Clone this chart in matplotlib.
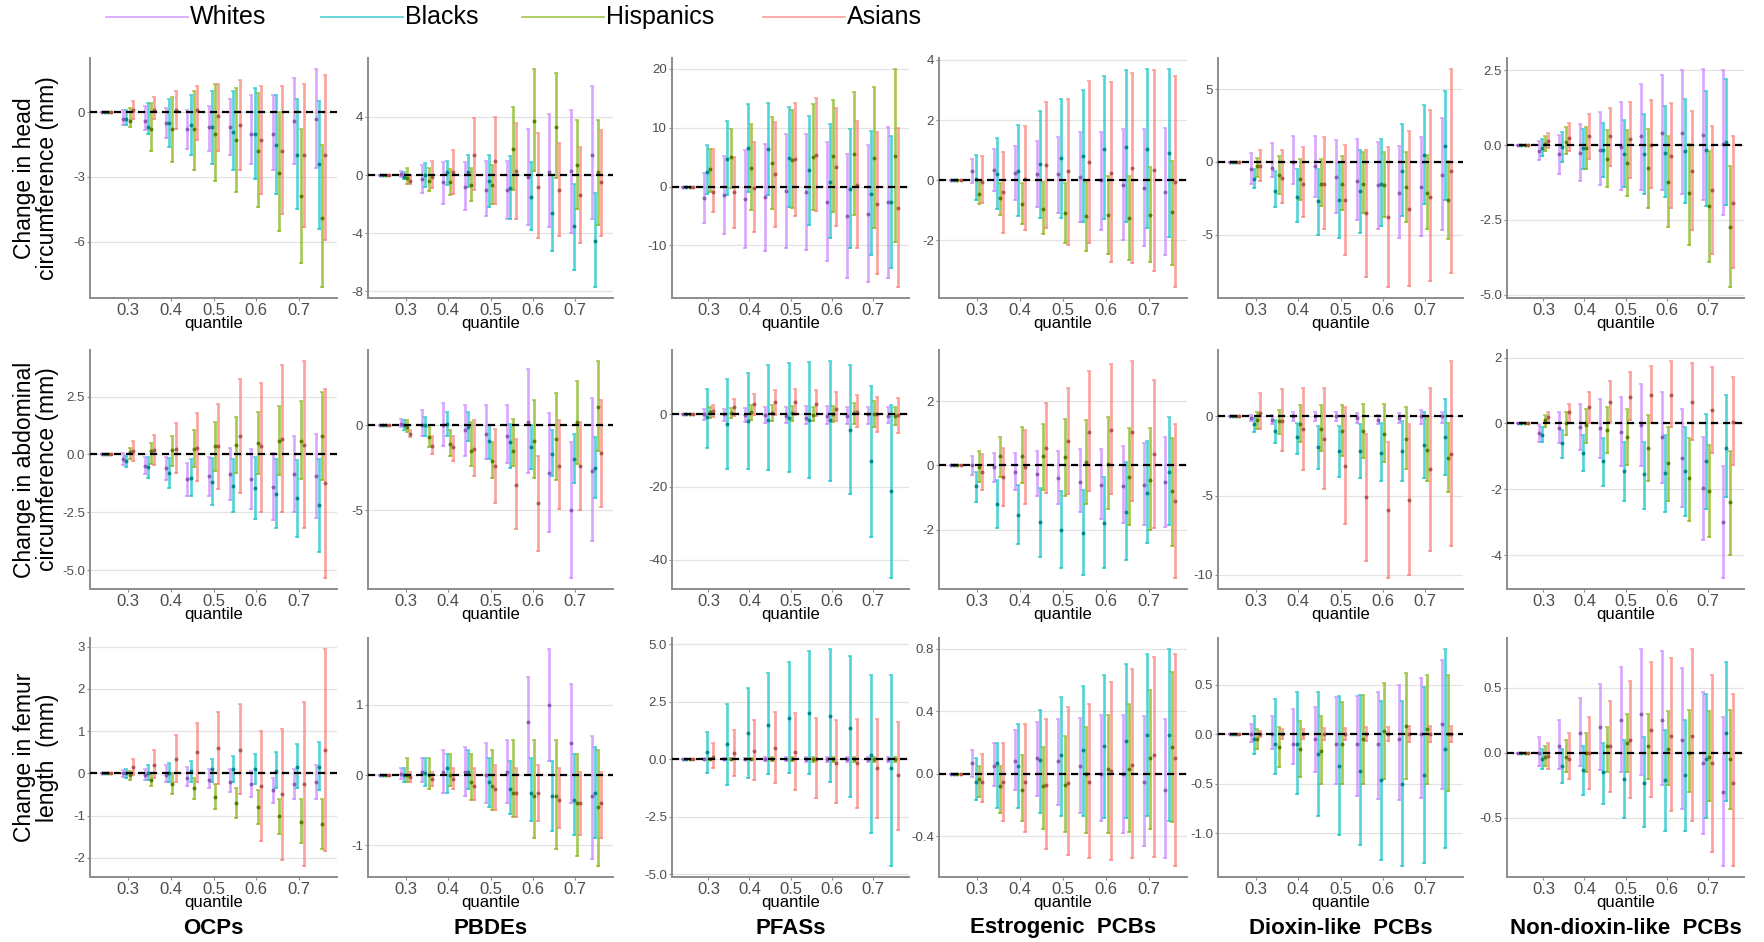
import numpy as np
import matplotlib
matplotlib.use("Agg")
import matplotlib.pyplot as plt
import matplotlib.colors as mcolors
from matplotlib.lines import Line2D

quantiles = [0.25, 0.3, 0.35, 0.4, 0.45, 0.5, 0.55, 0.6, 0.65, 0.7, 0.75]
groups = ["Whites", "Blacks", "Hispanics", "Asians"]
colors = ["#C77CFF", "#00BFC4", "#7CAE00", "#F8766D"]
chemicals = ["OCPs", "PBDEs", "PFASs", "Estrogenic  PCBs", "Dioxin-like  PCBs", "Non-dioxin-like  PCBs"]
outcomes = ["Change in head\ncircumference (mm)", "Change in abdominal\ncircumference (mm)",
            "Change in femur\nlength  (mm)"]

# rows of each array: Whites, Blacks, Hispanics, Asians; columns: quantiles
# ---------------- head circumference ----------------
head_ocp_est = [[0, -0.3, -0.4, -0.5, -0.8, -0.7, -0.7, -1.0, -1.0, -0.4, -0.3],
                [0, -0.3, -0.7, -0.5, -0.6, -0.7, -0.9, -1.0, -1.5, -2.0, -2.4],
                [0, -0.4, -0.8, -0.8, -0.8, -1.0, -1.3, -1.8, -2.8, -3.9, -4.9],
                [0, 0.1, 0.1, 0.1, 0.1, -0.2, -0.6, -1.3, -1.8, -2.0, -2.0]]
head_ocp_lo = [[0, -0.6, -0.85, -1.2, -1.7, -1.8, -2.0, -2.4, -2.7, -2.4, -2.6],
               [0, -0.6, -1.0, -1.6, -2.0, -2.4, -2.7, -3.1, -3.8, -4.5, -5.4],
               [0, -0.7, -1.8, -2.3, -2.7, -3.2, -3.7, -4.4, -5.5, -7.0, -8.1],
               [0, -0.3, -0.3, -0.8, -1.3, -1.8, -2.7, -3.8, -4.7, -5.3, -5.9]]
head_ocp_hi = [[0, 0.1, 0.3, 0.2, 0.1, 0.3, 0.6, 0.8, 0.8, 1.6, 2.0],
               [0, 0.1, 0.4, 0.6, 0.8, 1.0, 1.0, 1.1, 0.8, 0.6, 0.5],
               [0, 0.2, 0.4, 0.7, 1.0, 1.3, 1.1, 0.9, 0.0, -0.8, -1.5],
               [0, 0.5, 0.7, 1.0, 1.2, 1.3, 1.5, 1.2, 1.2, 1.3, 1.7]]

head_pbde_est = [[0, 0.1, -0.3, -0.5, -0.8, -1.0, -1.0, -0.1, 0.2, 0.3, 1.4],
                 [0, -0.1, 0.0, 0.2, 0.2, -0.4, -0.9, -1.5, -2.6, -3.5, -4.5],
                 [0, -0.2, -0.4, -0.5, -0.7, -0.7, 1.8, 3.7, 3.3, 0.7, 0.2],
                 [0, -0.4, -0.1, 0.2, 1.4, 1.0, 0.3, -0.8, -1.0, -1.4, -0.5]]
head_pbde_lo = [[0, -0.1, -1.2, -2.0, -2.4, -2.8, -3.0, -3.4, -3.6, -4.0, -3.0],
                [0, -0.3, -0.8, -0.7, -0.8, -2.2, -3.0, -3.8, -5.2, -6.5, -7.7],
                [0, -0.6, -1.1, -1.4, -1.8, -2.0, -1.0, 0.3, -0.2, -2.3, -3.4],
                [0, -0.6, -0.9, -1.3, -1.0, -2.0, -3.0, -4.3, -4.2, -4.7, -4.2]]
head_pbde_hi = [[0, 0.3, 0.7, 0.9, 0.9, 1.0, 1.0, 3.2, 4.2, 4.5, 6.1],
                [0, 0.2, 0.8, 1.0, 1.4, 1.4, 1.3, 0.9, 0.0, -0.6, -1.2],
                [0, 0.5, 0.5, 0.4, 0.5, 0.7, 4.7, 7.3, 7.0, 3.8, 3.8],
                [0, 0.0, 1.0, 1.7, 3.9, 4.0, 3.6, 2.9, 2.2, 1.9, 3.1]]

head_pfas_est = [[0, -2.0, -1.5, -2.2, -1.8, -0.8, -0.9, -2.6, -5.0, -4.7, -2.7],
                 [0, 2.5, 4.6, 6.5, 6.3, 4.8, 2.8, 0.8, -0.4, -1.2, -2.7],
                 [0, 2.9, 5.0, 3.2, 4.0, 4.5, 5.0, 5.2, 5.6, 4.9, 5.2],
                 [0, -0.9, -1.0, -0.2, 2.1, 4.6, 5.3, 3.3, 0.2, -3.0, -3.7]]
head_pfas_lo = [[0, -6.2, -8.0, -10.5, -11.0, -10.4, -10.8, -12.7, -15.5, -16.2, -15.6],
                [0, -1.2, -1.5, -1.0, -1.5, -3.5, -6.5, -8.7, -10.5, -11.6, -13.9],
                [0, -1.0, -0.2, -4.0, -3.8, -3.7, -4.0, -4.3, -4.8, -7.0, -9.4],
                [0, -4.4, -7.0, -7.7, -6.8, -5.0, -4.2, -6.7, -10.5, -14.9, -17.1]]
head_pfas_hi = [[0, 2.3, 5.2, 6.2, 7.3, 9.0, 9.0, 7.5, 5.5, 7.0, 10.1],
                [0, 7.0, 11.1, 14.0, 14.2, 13.6, 12.0, 10.6, 9.7, 9.5, 8.6],
                [0, 6.4, 9.8, 10.6, 11.8, 13.0, 14.0, 14.7, 16.0, 16.9, 20.0],
                [0, 6.3, 5.0, 7.6, 11.0, 14.2, 15.0, 13.4, 11.2, 9.2, 10.0]]

head_estr_est = [[0, 0.3, 0.35, 0.25, 0.2, 0.2, 0.1, 0.0, -0.15, -0.25, -0.4],
                 [0, 0.05, 0.2, 0.3, 0.55, 0.75, 0.8, 1.05, 1.1, 1.05, 0.9],
                 [0, -0.45, -0.6, -0.8, -0.95, -1.1, -1.2, -1.15, -1.25, -1.15, -1.05],
                 [0, -0.05, -0.4, 0.05, 0.5, 0.3, 0.6, 0.25, 0.4, 0.35, -0.05]]
head_estr_lo = [[0, -0.1, -0.35, -0.65, -0.9, -1.1, -1.4, -1.65, -2.0, -2.2, -2.5],
                [0, -0.65, -0.95, -1.2, -1.25, -1.25, -1.4, -1.3, -1.4, -1.6, -1.9],
                [0, -0.8, -1.15, -1.45, -1.8, -2.1, -2.35, -2.45, -2.65, -2.7, -2.8],
                [0, -0.75, -1.75, -1.65, -1.6, -2.15, -2.1, -2.7, -2.75, -3.0, -3.55]]
head_estr_hi = [[0, 0.7, 1.05, 1.15, 1.3, 1.45, 1.6, 1.6, 1.7, 1.7, 1.75],
                [0, 0.85, 1.4, 1.85, 2.3, 2.7, 3.0, 3.45, 3.65, 3.7, 3.7],
                [0, -0.05, -0.1, -0.1, -0.05, -0.1, -0.05, 0.15, 0.15, 0.45, 0.65],
                [0, 0.8, 0.95, 1.8, 2.6, 2.7, 3.3, 3.25, 3.55, 3.65, 3.45]]

head_diox_est = [[0, -0.5, -0.4, 0.0, -0.3, -1.0, -1.3, -1.6, -2.1, -1.7, -0.9],
                 [0, -1.2, -2.0, -2.4, -2.7, -2.6, -2.0, -1.5, -0.6, 0.5, 1.1],
                 [0, -0.3, -0.9, -1.2, -1.5, -1.5, -1.5, -1.6, -1.7, -2.1, -2.6],
                 [0, -0.3, -1.1, -1.5, -1.5, -2.6, -3.5, -3.8, -3.2, -2.4, -0.6]]
head_diox_lo = [[0, -1.5, -1.0, -1.5, -2.4, -3.5, -4.0, -4.6, -5.2, -5.1, -4.7],
                [0, -1.8, -3.1, -4.1, -5.0, -5.2, -4.9, -4.4, -3.7, -2.9, -2.6],
                [0, -1.0, -2.2, -2.6, -3.0, -3.3, -3.5, -3.8, -4.1, -4.6, -5.3],
                [0, -1.3, -2.8, -3.8, -4.6, -6.4, -7.9, -8.6, -8.5, -8.2, -7.6]]
head_diox_hi = [[0, 0.6, 1.3, 1.8, 1.8, 1.5, 1.6, 1.4, 1.1, 1.7, 3.0],
                [0, -0.5, -0.6, -0.5, -0.5, -0.1, 0.8, 1.6, 2.6, 3.9, 4.9],
                [0, 0.3, 0.4, 0.2, 0.2, 0.4, 0.7, 0.7, 0.7, 0.5, 0.1],
                [0, 0.8, 0.8, 1.0, 1.7, 1.2, 0.8, 1.0, 2.1, 3.6, 6.4]]

head_ndl_est = [[0, -0.2, -0.3, -0.25, -0.15, -0.05, 0.3, 0.4, 0.4, 0.35, 0.05],
                [0, -0.1, -0.05, -0.1, -0.15, -0.3, -0.3, -0.25, -0.2, -0.15, 0.1],
                [0, 0.05, 0.1, -0.1, -0.45, -0.6, -0.75, -1.25, -1.6, -2.05, -2.75],
                [0, 0.15, 0.25, 0.3, 0.3, 0.2, 0.0, -0.35, -0.85, -1.5, -1.95]]
head_ndl_lo = [[0, -0.5, -0.95, -1.2, -1.35, -1.5, -1.5, -1.5, -1.65, -1.85, -2.35],
               [0, -0.35, -0.55, -0.8, -1.05, -1.4, -1.65, -1.75, -1.95, -2.05, -2.0],
               [0, -0.2, -0.3, -0.8, -1.4, -1.7, -2.1, -2.75, -3.35, -3.9, -4.75],
               [0, -0.1, -0.2, -0.45, -0.7, -1.1, -1.45, -2.1, -2.85, -3.65, -4.1]]
head_ndl_hi = [[0, 0.15, 0.35, 0.7, 1.1, 1.45, 2.05, 2.35, 2.5, 2.55, 2.5],
               [0, 0.2, 0.45, 0.55, 0.75, 0.85, 1.05, 1.3, 1.55, 1.8, 2.2],
               [0, 0.3, 0.6, 0.6, 0.5, 0.5, 0.55, 0.3, 0.05, -0.2, -0.7],
               [0, 0.4, 0.75, 1.05, 1.25, 1.45, 1.5, 1.4, 1.15, 0.65, 0.3]]

# ---------------- abdominal circumference ----------------
abd_ocp_est = [[0, -0.2, -0.5, -0.6, -1.05, -0.95, -0.85, -1.05, -1.4, -0.85, -0.95],
               [0, -0.3, -0.55, -0.8, -1.0, -1.2, -1.35, -1.45, -1.7, -1.9, -2.2],
               [0, 0.1, 0.15, 0.2, 0.25, 0.35, 0.4, 0.5, 0.6, 0.6, 0.8],
               [0, 0.15, 0.2, 0.25, 0.3, 0.35, 0.8, 0.35, 0.65, 0.4, -1.25]]
abd_ocp_lo = [[0, -0.45, -0.85, -1.1, -1.8, -1.8, -1.95, -2.35, -2.85, -2.5, -2.75],
              [0, -0.55, -1.0, -1.45, -1.8, -2.2, -2.5, -2.8, -3.2, -3.55, -4.2],
              [0, -0.2, -0.4, -0.5, -0.55, -0.7, -0.8, -0.85, -0.9, -1.05, -1.1],
              [0, -0.3, -0.45, -0.8, -1.15, -1.5, -1.65, -2.5, -2.5, -3.2, -5.35]]
abd_ocp_hi = [[0, 0.05, -0.1, -0.1, -0.35, -0.1, 0.3, 0.25, 0.05, 0.8, 0.9],
              [0, -0.05, -0.1, -0.15, -0.2, -0.15, -0.2, -0.1, -0.2, -0.25, -0.2],
              [0, 0.3, 0.5, 0.8, 1.05, 1.4, 1.6, 1.85, 2.1, 2.3, 2.7],
              [0, 0.6, 0.85, 1.35, 1.8, 2.2, 3.25, 3.1, 3.85, 4.05, 2.85]]

abd_pbde_est = [[0, 0.1, 0.0, 0.0, -0.3, -0.5, -0.6, 0.2, -2.8, -5.0, -2.7],
                [0, 0.0, 0.0, 0.1, -0.1, -0.9, -1.0, -1.3, -1.7, -2.0, -2.5],
                [0, -0.1, -0.7, -1.1, -1.5, -2.1, -1.5, -0.9, -0.8, 0.2, 1.1],
                [0, -0.5, -1.2, -1.3, -1.4, -2.4, -3.5, -4.6, -2.4, -2.4, -1.6]]
abd_pbde_lo = [[0, -0.1, -0.6, -1.2, -1.8, -2.0, -2.2, -2.8, -6.3, -9.0, -6.8],
               [0, -0.3, -0.6, -0.6, -0.9, -2.0, -2.5, -2.6, -3.0, -3.4, -4.3],
               [0, -0.4, -1.3, -1.8, -2.4, -3.1, -2.4, -3.1, -3.2, -2.3, -1.5],
               [0, -0.7, -1.7, -2.1, -3.0, -4.6, -6.1, -7.4, -4.9, -5.0, -4.8]]
abd_pbde_hi = [[0, 0.4, 0.9, 1.3, 1.2, 1.2, 1.2, 3.3, 0.7, -1.0, 1.6],
               [0, 0.3, 0.5, 0.8, 0.8, 0.0, 0.1, 0.0, -0.3, -0.5, -0.7],
               [0, 0.3, -0.1, -0.3, 0.2, -1.0, 0.4, 1.5, 1.9, 2.6, 3.8],
               [0, -0.3, -0.6, -0.6, 0.3, -0.2, -0.8, -1.8, 0.3, 0.2, 1.5]]

abd_pfas_est = [[0, 0.0, 0.0, -0.2, -0.3, -0.5, -1.1, -0.5, -0.4, 0.0, -0.5],
                [0, -0.8, -2.8, -1.8, -1.7, -1.2, -1.5, -1.7, -4.4, -13.0, -21.2],
                [0, 0.5, 0.3, 0.5, 0.3, 0.3, -0.3, 0.0, 0.3, 0.0, -0.5],
                [0, 0.8, 1.9, 2.7, 3.2, 3.3, 2.7, 1.5, 0.5, 0.0, -0.3]]
abd_pfas_lo = [[0, -1.5, -2.0, -2.2, -2.5, -2.4, -2.6, -2.6, -2.8, -2.8, -2.5],
               [0, -9.2, -15.2, -15.0, -15.3, -16.0, -17.4, -18.3, -22.0, -33.8, -45.0],
               [0, -1.0, -1.2, -1.5, -1.8, -1.8, -2.0, -2.3, -2.7, -3.5, -3.0],
               [0, -0.8, -0.5, -0.3, -0.3, -0.2, -0.6, -2.0, -3.5, -4.8, -5.3]]
abd_pfas_hi = [[0, 1.5, 1.5, 1.7, 1.9, 1.9, 2.1, 2.1, 1.9, 2.0, 2.0],
               [0, 7.0, 9.5, 11.4, 13.5, 14.0, 14.3, 14.6, 13.5, 7.7, 2.5],
               [0, 2.0, 1.8, 2.5, 2.4, 2.3, 1.9, 2.2, 3.0, 3.5, 2.0],
               [0, 2.5, 4.2, 5.6, 6.7, 7.0, 6.7, 6.0, 5.3, 4.6, 4.3]]

abd_estr_est = [[0, 0.0, -0.05, -0.2, -0.25, -0.4, -0.5, -0.6, -0.65, -0.6, -0.5],
                [0, -0.65, -1.2, -1.55, -1.75, -2.0, -2.1, -1.8, -1.45, -0.85, -0.2],
                [0, -0.05, 0.3, 0.3, 0.3, 0.25, 0.1, 0.05, -0.35, -0.45, -0.8],
                [0, -0.2, -0.35, -0.05, 0.55, 0.75, 1.05, 1.1, 1.05, 0.35, -1.1]]
abd_estr_lo = [[0, -0.3, -0.5, -0.75, -0.95, -1.2, -1.45, -1.65, -1.8, -1.85, -1.9],
               [0, -1.15, -1.95, -2.45, -2.85, -3.2, -3.4, -3.2, -2.95, -2.4, -1.85],
               [0, -0.5, -0.35, -0.55, -0.75, -0.95, -1.2, -1.35, -1.85, -2.0, -2.5],
               [0, -0.75, -1.25, -1.2, -0.85, -0.9, -0.8, -0.9, -1.1, -1.95, -3.5]]
abd_estr_hi = [[0, 0.3, 0.4, 0.4, 0.45, 0.45, 0.5, 0.5, 0.6, 0.7, 0.9],
               [0, -0.2, -0.45, -0.6, -0.7, -0.8, -0.75, -0.35, 0.1, 0.75, 1.5],
               [0, 0.45, 0.9, 1.2, 1.3, 1.45, 1.4, 1.5, 1.15, 1.15, 0.85],
               [0, 0.35, 0.55, 1.1, 1.95, 2.4, 2.95, 3.15, 3.25, 2.65, 1.3]]

abd_diox_est = [[0, -0.1, -0.2, 0.0, 0.0, 0.0, -0.1, -0.2, -0.1, 0.0, 0.0],
                [0, -0.5, -0.9, -1.3, -1.9, -2.2, -2.2, -2.3, -2.2, -1.8, -1.3],
                [0, -0.2, -0.3, -0.5, -0.8, -0.9, -0.9, -1.1, -1.4, -2.1, -2.6],
                [0, 0.2, -0.3, -0.8, -1.4, -3.1, -5.1, -5.9, -5.3, -3.3, -2.4]]
abd_diox_lo = [[0, -0.3, -0.5, -0.3, -0.3, -0.3, -0.4, -0.5, -0.4, -0.5, -0.4],
               [0, -1.0, -1.7, -2.4, -3.3, -3.8, -3.9, -4.1, -4.1, -3.9, -3.7],
               [0, -0.8, -1.1, -1.6, -2.2, -2.5, -2.6, -2.9, -3.3, -4.1, -4.8],
               [0, -0.8, -2.2, -3.4, -4.6, -6.8, -9.1, -10.2, -10.0, -8.5, -8.2]]
abd_diox_hi = [[0, 0.1, 0.1, 0.3, 0.3, 0.3, 0.2, 0.1, 0.2, 0.4, 0.3],
               [0, -0.1, -0.2, -0.4, -0.6, -0.6, -0.5, -0.4, -0.3, 0.3, 1.1],
               [0, 0.3, 0.4, 0.7, 0.7, 0.7, 0.8, 0.8, 0.6, -0.1, -0.4],
               [0, 1.5, 1.7, 1.8, 1.8, 0.6, -1.1, -1.6, -0.5, 1.8, 3.5]]

abd_ndl_est = [[0, -0.3, -0.15, -0.1, -0.15, -0.25, -0.05, -0.4, -1.05, -1.95, -3.0],
               [0, -0.35, -0.6, -0.9, -1.15, -1.45, -1.55, -1.5, -1.45, -1.15, -0.75],
               [0, 0.1, 0.0, -0.05, -0.2, -0.4, -0.75, -1.2, -1.65, -2.05, -2.4],
               [0, 0.2, 0.35, 0.5, 0.65, 0.8, 0.85, 0.85, 0.65, 0.4, 0.05]]
abd_ndl_lo = [[0, -0.55, -0.6, -0.8, -1.05, -1.3, -1.3, -1.8, -2.55, -3.55, -4.7],
              [0, -0.55, -1.05, -1.45, -1.9, -2.35, -2.6, -2.7, -2.8, -2.6, -2.25],
              [0, -0.1, -0.35, -0.6, -0.9, -1.25, -1.75, -2.35, -2.95, -3.45, -4.0],
              [0, 0.0, 0.0, 0.0, 0.05, 0.1, 0.0, -0.1, -0.5, -0.9, -1.25]]
abd_ndl_hi = [[0, -0.05, 0.35, 0.6, 0.75, 0.8, 1.2, 0.95, 0.45, -0.4, -1.3],
              [0, -0.1, -0.2, -0.35, -0.45, -0.55, -0.55, -0.35, -0.1, 0.3, 0.85],
              [0, 0.25, 0.35, 0.45, 0.5, 0.45, 0.25, -0.1, -0.45, -0.65, -0.85],
              [0, 0.35, 0.6, 0.95, 1.3, 1.55, 1.75, 1.9, 1.85, 1.7, 1.4]]

# ---------------- femur length ----------------
fem_ocp_est = [[0, 0.0, -0.05, -0.05, -0.1, -0.15, -0.2, -0.25, -0.4, -0.25, -0.2],
               [0, 0.0, 0.0, 0.0, 0.05, 0.1, 0.1, 0.1, 0.05, 0.15, 0.15],
               [0, -0.05, -0.15, -0.25, -0.35, -0.55, -0.7, -0.8, -1.0, -1.15, -1.2],
               [0, 0.15, 0.2, 0.35, 0.5, 0.6, 0.55, -0.3, -0.5, -0.25, 0.55]]
fem_ocp_lo = [[0, -0.08, -0.15, -0.2, -0.3, -0.35, -0.45, -0.55, -0.7, -0.6, -0.6],
              [0, -0.1, -0.15, -0.2, -0.2, -0.2, -0.2, -0.25, -0.35, -0.35, -0.4],
              [0, -0.15, -0.3, -0.5, -0.6, -0.85, -1.05, -1.2, -1.45, -1.65, -1.8],
              [0, -0.05, -0.1, -0.2, -0.2, -0.25, -0.5, -1.6, -2.05, -2.2, -1.85]]
fem_ocp_hi = [[0, 0.08, 0.1, 0.2, 0.15, 0.1, 0.1, 0.05, -0.1, 0.1, 0.2],
              [0, 0.1, 0.2, 0.25, 0.3, 0.35, 0.4, 0.45, 0.5, 0.7, 0.75],
              [0, 0.05, 0.0, 0.0, -0.1, -0.25, -0.35, -0.4, -0.6, -0.6, -0.6],
              [0, 0.35, 0.55, 0.9, 1.2, 1.45, 1.65, 1.0, 1.05, 1.7, 2.95]]

fem_pbde_est = [[0, 0.02, 0.05, 0.05, 0.05, 0.0, 0.05, 0.75, 1.0, 0.45, -0.3],
                [0, 0.0, 0.03, 0.1, 0.05, -0.1, -0.2, -0.25, -0.3, -0.35, -0.25],
                [0, 0.0, 0.0, 0.0, -0.1, -0.15, -0.25, -0.3, -0.3, -0.4, -0.45],
                [0, -0.03, -0.05, -0.05, -0.15, -0.2, -0.25, -0.25, -0.35, -0.4, -0.4]]
fem_pbde_lo = [[0, -0.05, -0.1, -0.25, -0.3, -0.4, -0.4, 0.0, 0.2, -0.4, -1.2],
               [0, -0.1, -0.15, -0.25, -0.2, -0.45, -0.55, -0.65, -0.8, -0.85, -0.9],
               [0, -0.1, -0.2, -0.15, -0.35, -0.5, -0.6, -0.9, -1.05, -1.15, -1.3],
               [0, -0.1, -0.15, -0.2, -0.35, -0.5, -0.6, -0.65, -0.75, -0.85, -0.9]]
fem_pbde_hi = [[0, 0.1, 0.25, 0.35, 0.4, 0.45, 0.5, 1.4, 1.8, 1.3, 0.55],
               [0, 0.1, 0.25, 0.3, 0.35, 0.25, 0.2, 0.25, 0.2, 0.3, 0.4],
               [0, 0.25, 0.25, 0.3, 0.3, 0.35, 0.5, 0.5, 0.5, 0.3, 0.35],
               [0, 0.05, 0.05, 0.1, 0.1, 0.15, 0.1, 0.15, 0.1, 0.05, 0.05]]

fem_pfas_est = [[0, 0.0, 0.0, 0.0, 0.0, 0.0, 0.0, 0.0, 0.0, 0.0, 0.0],
                [0, 0.3, 0.65, 1.15, 1.5, 1.8, 2.0, 1.9, 1.35, 0.2, -0.4],
                [0, 0.0, 0.0, 0.0, 0.0, 0.0, 0.0, 0.0, 0.0, 0.0, 0.0],
                [0, 0.1, 0.25, 0.35, 0.5, 0.3, 0.0, -0.15, -0.15, -0.4, -0.7]]
fem_pfas_lo = [[0, -0.05, -0.05, -0.05, -0.08, -0.08, -0.1, -0.1, -0.1, -0.1, -0.1],
               [0, -0.6, -1.1, -0.8, -0.65, -0.6, -0.65, -1.0, -1.65, -3.2, -4.65],
               [0, -0.05, -0.05, -0.05, -0.08, -0.08, -0.1, -0.1, -0.1, -0.1, -0.1],
               [0, -0.4, -0.75, -0.9, -1.05, -1.35, -1.7, -1.9, -2.1, -2.55, -3.1]]
fem_pfas_hi = [[0, 0.05, 0.05, 0.05, 0.08, 0.08, 0.1, 0.1, 0.1, 0.1, 0.1],
               [0, 1.2, 2.4, 3.1, 3.75, 4.25, 4.7, 4.8, 4.5, 3.65, 3.65],
               [0, 0.05, 0.05, 0.05, 0.08, 0.08, 0.1, 0.1, 0.1, 0.1, 0.1],
               [0, 0.7, 1.25, 1.7, 2.05, 2.0, 1.8, 1.7, 1.75, 1.75, 1.6]]

fem_estr_est = [[0, 0.07, 0.05, 0.08, 0.1, 0.08, 0.05, 0.0, 0.0, -0.05, -0.1],
                [0, -0.05, 0.07, 0.05, 0.09, 0.12, 0.15, 0.18, 0.21, 0.25, 0.25],
                [0, -0.03, -0.08, -0.1, -0.08, -0.07, 0.0, 0.03, 0.03, 0.1, 0.17],
                [0, -0.05, -0.05, -0.05, -0.07, -0.06, -0.05, 0.02, 0.06, 0.12, 0.1]]
fem_estr_lo = [[0, -0.02, -0.08, -0.1, -0.14, -0.2, -0.25, -0.3, -0.38, -0.46, -0.54],
               [0, -0.17, -0.22, -0.22, -0.25, -0.27, -0.27, -0.28, -0.28, -0.27, -0.3],
               [0, -0.15, -0.25, -0.3, -0.35, -0.37, -0.38, -0.38, -0.37, -0.35, -0.31],
               [0, -0.18, -0.3, -0.37, -0.48, -0.52, -0.54, -0.55, -0.54, -0.53, -0.59]]
fem_estr_hi = [[0, 0.15, 0.2, 0.28, 0.33, 0.35, 0.36, 0.38, 0.38, 0.37, 0.35],
               [0, 0.1, 0.2, 0.32, 0.41, 0.49, 0.56, 0.63, 0.7, 0.77, 0.8],
               [0, 0.05, 0.05, 0.12, 0.17, 0.24, 0.3, 0.38, 0.45, 0.54, 0.65],
               [0, 0.13, 0.2, 0.32, 0.35, 0.43, 0.45, 0.59, 0.67, 0.75, 0.77]]

fem_diox_est = [[0, 0.0, 0.0, -0.1, -0.05, -0.1, -0.1, -0.1, -0.05, 0.0, 0.1],
                [0, -0.05, -0.1, -0.1, -0.2, -0.32, -0.37, -0.46, -0.5, -0.41, -0.15],
                [0, -0.05, -0.13, -0.15, -0.17, -0.1, -0.05, 0.03, 0.08, 0.05, 0.0],
                [0, 0.0, 0.0, 0.0, 0.0, 0.0, 0.0, 0.0, 0.0, 0.0, 0.0]]
fem_diox_lo = [[0, -0.08, -0.15, -0.3, -0.38, -0.5, -0.62, -0.65, -0.66, -0.64, -0.55],
               [0, -0.2, -0.4, -0.6, -0.82, -1.02, -1.12, -1.27, -1.33, -1.3, -1.15],
               [0, -0.15, -0.33, -0.43, -0.5, -0.5, -0.5, -0.45, -0.45, -0.5, -0.57],
               [0, -0.03, -0.05, -0.05, -0.06, -0.06, -0.07, -0.07, -0.08, -0.08, -0.08]]
fem_diox_hi = [[0, 0.1, 0.18, 0.25, 0.27, 0.37, 0.38, 0.43, 0.5, 0.57, 0.75],
               [0, 0.18, 0.35, 0.43, 0.43, 0.38, 0.4, 0.33, 0.33, 0.48, 0.86],
               [0, 0.05, 0.07, 0.13, 0.18, 0.32, 0.4, 0.52, 0.62, 0.6, 0.6],
               [0, 0.03, 0.05, 0.05, 0.06, 0.06, 0.07, 0.07, 0.08, 0.08, 0.08]]

fem_ndl_est = [[0, 0.0, 0.05, 0.15, 0.2, 0.25, 0.3, 0.25, 0.1, -0.08, -0.3],
               [0, -0.05, -0.1, -0.13, -0.15, -0.2, -0.23, -0.21, -0.17, -0.05, 0.15],
               [0, -0.03, -0.03, 0.0, 0.05, 0.08, 0.05, 0.03, 0.0, -0.03, -0.05],
               [0, -0.02, -0.05, 0.0, 0.05, 0.1, 0.18, 0.13, 0.13, -0.08, -0.23]]
fem_ndl_lo = [[0, -0.1, -0.12, -0.1, -0.13, -0.15, -0.17, -0.25, -0.43, -0.62, -0.87],
              [0, -0.12, -0.23, -0.32, -0.39, -0.5, -0.57, -0.6, -0.6, -0.5, -0.37],
              [0, -0.1, -0.15, -0.15, -0.15, -0.15, -0.2, -0.25, -0.3, -0.37, -0.43],
              [0, -0.12, -0.2, -0.28, -0.3, -0.35, -0.34, -0.45, -0.52, -0.76, -0.87]]
fem_ndl_hi = [[0, 0.12, 0.25, 0.42, 0.53, 0.66, 0.8, 0.78, 0.65, 0.47, 0.28],
              [0, 0.03, 0.03, 0.05, 0.08, 0.1, 0.12, 0.18, 0.25, 0.45, 0.7],
              [0, 0.05, 0.1, 0.15, 0.2, 0.3, 0.3, 0.32, 0.33, 0.32, 0.33],
              [0, 0.08, 0.15, 0.28, 0.4, 0.55, 0.7, 0.73, 0.8, 0.6, 0.45]]

# y tick values of each panel (row by row)
yticks = [[[-6, -3, 0], [-8, -4, 0, 4], [-10, 0, 10, 20], [-2, 0, 2, 4], [-5, 0, 5], [-5, -2.5, 0, 2.5]],
          [[-5, -2.5, 0, 2.5], [-5, 0], [-40, -20, 0], [-2, 0, 2], [-10, -5, 0], [-4, -2, 0, 2]],
          [[-2, -1, 0, 1, 2, 3], [-1, 0, 1], [-5, -2.5, 0, 2.5, 5], [-0.4, 0, 0.4, 0.8],
           [-1, -0.5, 0, 0.5], [-0.5, 0, 0.5]]]
ydecimals = [[0, 0, 0, 0, 0, 1], [1, 0, 0, 0, 0, 0], [0, 0, 1, 1, 1, 1]]

panels = [[(head_ocp_est, head_ocp_lo, head_ocp_hi), (head_pbde_est, head_pbde_lo, head_pbde_hi),
           (head_pfas_est, head_pfas_lo, head_pfas_hi), (head_estr_est, head_estr_lo, head_estr_hi),
           (head_diox_est, head_diox_lo, head_diox_hi), (head_ndl_est, head_ndl_lo, head_ndl_hi)],
          [(abd_ocp_est, abd_ocp_lo, abd_ocp_hi), (abd_pbde_est, abd_pbde_lo, abd_pbde_hi),
           (abd_pfas_est, abd_pfas_lo, abd_pfas_hi), (abd_estr_est, abd_estr_lo, abd_estr_hi),
           (abd_diox_est, abd_diox_lo, abd_diox_hi), (abd_ndl_est, abd_ndl_lo, abd_ndl_hi)],
          [(fem_ocp_est, fem_ocp_lo, fem_ocp_hi), (fem_pbde_est, fem_pbde_lo, fem_pbde_hi),
           (fem_pfas_est, fem_pfas_lo, fem_pfas_hi), (fem_estr_est, fem_estr_lo, fem_estr_hi),
           (fem_diox_est, fem_diox_lo, fem_diox_hi), (fem_ndl_est, fem_ndl_lo, fem_ndl_hi)]]

# layout in pixels of the 1764x942 canvas
W, H = 1764, 942
col_px = [(90, 337), (368, 613), (672, 909), (939, 1187), (1218, 1463), (1507, 1744)]
row_px = [(58, 298), (350, 589), (638, 877)]
dodge = [-0.01125, -0.00375, 0.00375, 0.01125]

plt.rcParams["font.family"] = ["Liberation Sans", "DejaVu Sans"]

fig = plt.figure(figsize=(W / 100, H / 100), dpi=100)
fig.patch.set_facecolor("white")

# slightly darker shade for the point estimates
dot_colors = [tuple(0.72 * v for v in mcolors.to_rgb(col)) for col in colors]

q = np.array(quantiles)
for r in range(3):
    for c in range(6):
        x0, x1 = col_px[c]
        y0, y1 = row_px[r]
        ax = fig.add_axes([x0 / W, 1 - y1 / H, (x1 - x0) / W, (y1 - y0) / H])
        est_all, lo_all, hi_all = panels[r][c]
        for g in range(4):
            est = np.array(est_all[g], dtype=float)
            lo = np.array(lo_all[g], dtype=float)
            hi = np.array(hi_all[g], dtype=float)
            yerr = [np.clip(est - lo, 0, None), np.clip(hi - est, 0, None)]
            ax.errorbar(q + dodge[g], est, yerr=yerr, fmt="none", ecolor=colors[g],
                        elinewidth=1.9, capsize=1.6, capthick=1.2, alpha=0.68, zorder=3)
            ax.plot(q + dodge[g], est, "o", color=dot_colors[g], markersize=2.8,
                    markeredgewidth=0, zorder=4)
        ax.axhline(0, color="black", lw=1.6, ls=(0, (3.2, 2.2)), zorder=6)
        ax.set_xlim(0.211, 0.789)
        ax.set_xticks([0.3, 0.4, 0.5, 0.6, 0.7])
        ax.set_xticklabels(["0.3", "0.4", "0.5", "0.6", "0.7"], fontsize=12, color="#4d4d4d")
        ax.set_yticks(yticks[r][c])
        ax.set_yticklabels([f"{v:.{ydecimals[r][c]}f}" for v in yticks[r][c]],
                           fontsize=9.5, color="#4d4d4d")
        ax.margins(y=0.05)
        ax.grid(axis="y", color="#e3e3e3", lw=0.9)
        ax.set_axisbelow(True)
        for s in ["top", "right"]:
            ax.spines[s].set_visible(False)
        for s in ["left", "bottom"]:
            ax.spines[s].set_color("#8c8c8c")
            ax.spines[s].set_linewidth(1.4)
        ax.tick_params(length=2.5, width=0.8, color="#8c8c8c", pad=1)
        ax.set_xlabel("quantile", fontsize=12, labelpad=-1)
        if c == 0:
            fig.text(36 / W, 1 - (y0 + y1) / 2 / H, outcomes[r], rotation=90, ha="center",
                     va="center", fontsize=16.5, linespacing=1.0)
        if r == 2:
            fig.text((x0 + x1) / 2 / W, 1 - 928 / H, chemicals[c], ha="center", va="center",
                     fontsize=16, fontweight="bold")

# legend along the top
leg_x = [106, 321, 522, 763]
for g in range(4):
    fig.add_artist(Line2D([leg_x[g] / W, (leg_x[g] + 82) / W], [1 - 17 / H, 1 - 17 / H],
                          color=colors[g], lw=1.2, alpha=0.7))
    fig.text((leg_x[g] + 84) / W, 1 - 17 / H, groups[g], ha="left", va="center", fontsize=18)

fig.savefig("out.png", dpi=100, facecolor="white")
